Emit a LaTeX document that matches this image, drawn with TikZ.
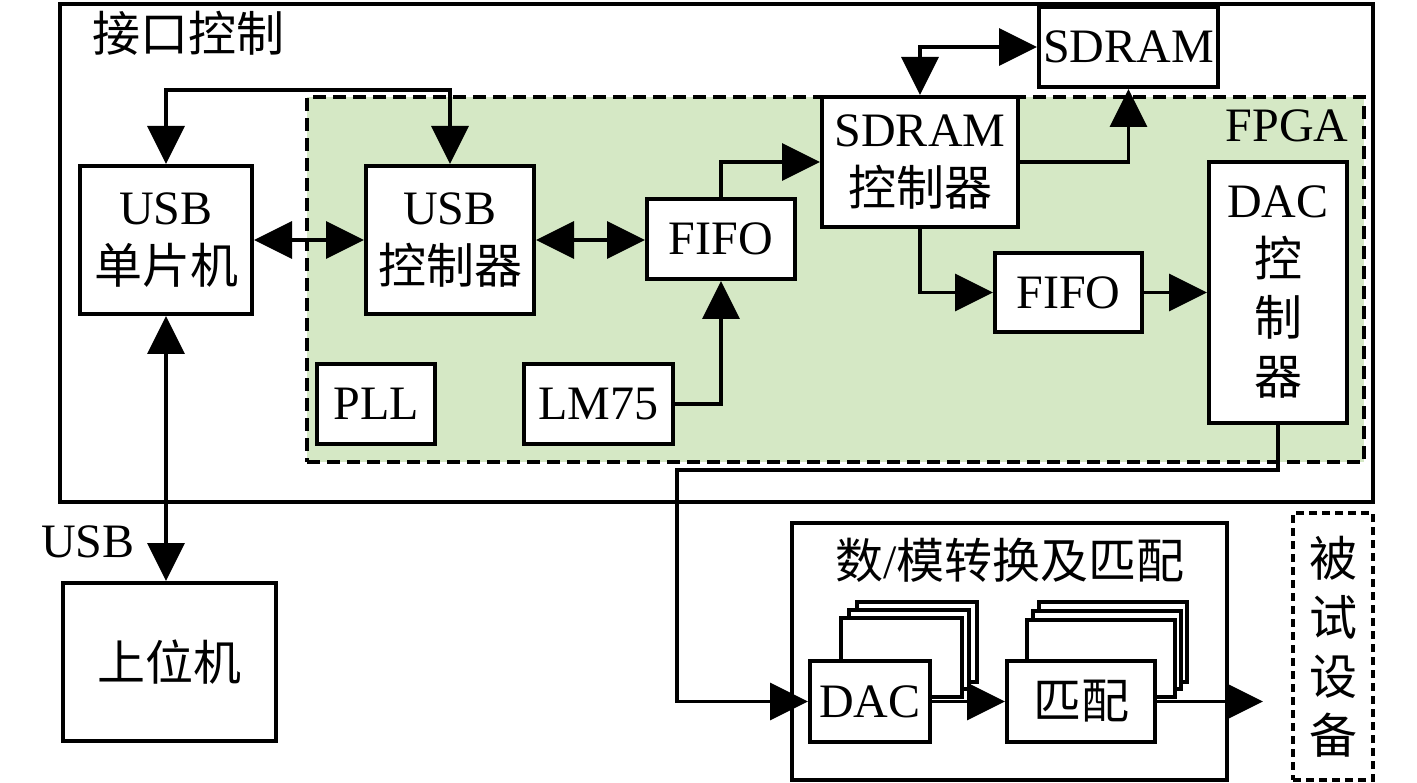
\documentclass[tikz,border=0pt]{standalone}
\usepackage{fontspec}
\setmainfont{Liberation Serif}
\newfontfamily\cjk{Noto Sans CJK SC}
\usetikzlibrary{arrows.meta}
\definecolor{fpgagreen}{RGB}{213,232,197}
\begin{document}
\begin{tikzpicture}[x=1pt,y=-1pt,
  every node/.style={font=\fontsize{48}{59}\selectfont, inner sep=0pt},
  blk/.style={draw, line width=4pt, fill=white, align=center},
  stk/.style={draw, line width=3.5pt, fill=white},
  txt/.style={align=center},
  tip/.tip={Triangle[length=38pt,width=37pt]},
  conn/.style={line width=3.5pt, -tip},
  dconn/.style={line width=3.5pt, tip-tip}]
\useasboundingbox (0,0) rectangle (1417,783);

% outer interface box
\node[draw, line width=4pt, minimum width=1313pt, minimum height=498pt] (iface) at (716.5,253) {};
\node[txt, anchor=west] (ifacettl) at (92,33) {\cjk 接口控制};

% FPGA region
\node[draw, line width=4pt, dash pattern=on 13pt off 7pt, fill=fpgagreen,
      minimum width=1057pt, minimum height=365pt] (fpga) at (835.5,279.5) {};
\node[txt] (fpgattl) at (1287,126) {FPGA};

% blocks
\node[blk, minimum width=172pt, minimum height=148pt] (usbmcu) at (166,240) {USB\\{\cjk 单片机}};
\node[blk, minimum width=168pt, minimum height=148pt] (usbctrl) at (450,240) {USB\\{\cjk 控制器}};
\node[blk, minimum width=148pt, minimum height=80pt] (fifo1) at (721,239) {FIFO};
\node[blk, minimum width=196pt, minimum height=130pt] (sdramctrl) at (920,162) {SDRAM\\{\cjk 控制器}};
\node[blk, minimum width=179pt, minimum height=80pt] (sdram) at (1128.5,47) {SDRAM};
\node[blk, minimum width=147pt, minimum height=79pt] (fifo2) at (1068.5,292.5) {FIFO};
\node[blk, minimum width=138pt, minimum height=261pt] (dacctrl) at (1278,292.5) {DAC\\{\cjk 控}\\{\cjk 制}\\{\cjk 器}};
\node[blk, minimum width=118pt, minimum height=80pt] (pll) at (376,404) {PLL};
\node[blk, minimum width=149pt, minimum height=80pt] (lm75) at (598.5,404) {LM75};

% host
\node[blk, minimum width=213pt, minimum height=158pt] (host) at (169.5,662) {\cjk 上位机};
\node[txt] (usblbl) at (88,542) {USB};

% D/A conversion and matching
\node[draw, line width=4pt, minimum width=435pt, minimum height=257pt] (da) at (1009.5,651.5) {};
\node[txt] (datitle) at (1010,560) {{\cjk 数}/{\cjk 模转换及匹配}};

\node[stk, minimum width=120pt, minimum height=80pt] (dacb3) at (917,642) {};
\node[stk, minimum width=120pt, minimum height=79pt] (dacb2) at (909,649.5) {};
\node[stk, minimum width=121pt, minimum height=79pt] (dacb1) at (901.5,657.5) {};
\node[blk, minimum width=120pt, minimum height=81pt] (dac) at (870,701.5) {DAC};

\node[stk, minimum width=148pt, minimum height=80pt] (matb3) at (1113,642) {};
\node[stk, minimum width=148pt, minimum height=78pt] (matb2) at (1107,650) {};
\node[stk, minimum width=148pt, minimum height=77pt] (matb1) at (1101,658.5) {};
\node[blk, minimum width=148pt, minimum height=81pt] (match) at (1081,701.5) {\cjk 匹配};

% device under test
\node[draw, line width=3.5pt, dash pattern=on 8pt off 5pt, minimum width=80pt, minimum height=267pt,
      align=center] (dut) at (1333,646.5) {\cjk 被\\\cjk 试\\\cjk 设\\\cjk 备};

% connectors
\coordinate (outend) at (1263,701.5);
\coordinate (bend) at (677,470);

\draw[dconn] (usbmcu.north) -- ++(0,-74) -| (usbctrl.north);
\draw[dconn] (usbmcu.east) -- (usbctrl.west);
\draw[dconn] (usbctrl.east) -- (usbctrl.east -| fifo1.west);
\draw[conn] (fifo1.north) |- (sdramctrl.west);
\draw[conn] (sdramctrl.east) -| (sdram.south);
\draw[dconn] (sdramctrl.north) |- (sdram.west);
\draw[conn] (sdramctrl.south) |- (fifo2.west);
\draw[conn] (fifo2.east) -- (dacctrl.west);
\draw[conn] (lm75.east) -| (fifo1.south);
\draw[dconn] (usbmcu.south) -- (usbmcu.south |- host.north);
\draw[conn] (dacctrl.south) |- (bend) |- (dac.west);
\draw[conn] (dac.east) -- (match.west);
\draw[conn] (match.east) -- (outend);
\end{tikzpicture}
\end{document}
